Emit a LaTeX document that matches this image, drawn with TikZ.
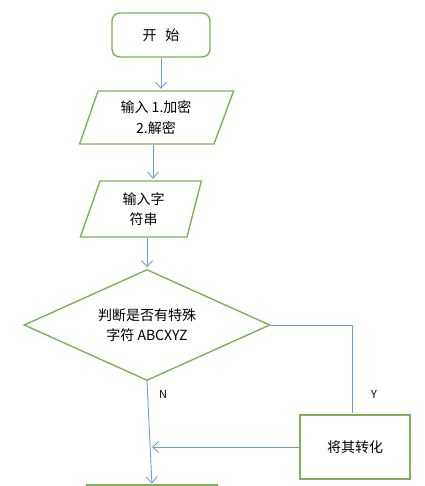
\documentclass[tikz,border=0pt]{standalone}
\usepackage{fontspec}
\setmainfont{Noto Sans CJK SC}
\usetikzlibrary{arrows.meta,positioning,shapes.geometric}
\definecolor{boxgreen}{HTML}{7DB356}
\definecolor{flowblue}{HTML}{6C9FD4}

\begin{document}
\begin{tikzpicture}[x=1pt,y=-1pt,>={Straight Barb[length=6pt,width=11pt]},
  font=\fontsize{14}{20.5}\selectfont,
  shapebox/.style={draw=boxgreen,line width=1.4pt,align=center,inner sep=0pt},
  startbox/.style={shapebox,rectangle,rounded corners=8pt,minimum width=98pt,minimum height=44pt},
  inbox/.style={shapebox,trapezium,trapezium stretches body},
  decbox/.style={shapebox,diamond,minimum width=246pt,minimum height=111pt,aspect=2.2},
  procbox/.style={shapebox,rectangle,line width=1.2pt,minimum width=110pt,minimum height=64pt},
  flow/.style={draw=flowblue,line width=0.9pt,shorten >=1.5pt},
  yn/.style={font=\fontsize{11}{13}\selectfont}]
\useasboundingbox (0,0) rectangle (424,486);
\node[startbox] (start) at (161,35) {开\hspace{9pt}始};
\node[inbox,trapezium left angle=61.3,trapezium right angle=120.3,
  minimum width=154pt,minimum height=53pt] (in1) at (156,117.5) {输入 1.加密\\2.解密};
\node[inbox,trapezium left angle=59.5,trapezium right angle=113.2,
  minimum width=121pt,minimum height=56pt] (in2) at (143.5,209) {输入字\\符串};
\node[decbox] (dec) at (147,325) {判断是否有特殊\\字符 ABCXYZ};
\node[procbox] (conv) at (355,447) {将其转化};
\coordinate (endl) at (152,485);
\draw[boxgreen,line width=1.4pt] (86,485) -- (218,485);
% arrows
\draw[flow,->] (start) -- (start |- in1.north);
\draw[flow,->] ([xshift=-3pt]in1.south) -- ([xshift=-3pt]in1.south |- in2.north);
\draw[flow,->] (dec.north |- in2.south) -- (dec.north);
\draw[flow] (dec.east) -| ([xshift=-3pt]conv.north);
\draw[flow,->] (dec.south) -- (endl);
\draw[flow,->] (conv.west) -- (conv.west -| 150.5,0);
\node[yn] (nlab) at (163,394) {N};
\node[yn] (ylab) at (374,394) {Y};
\end{tikzpicture}
\end{document}
